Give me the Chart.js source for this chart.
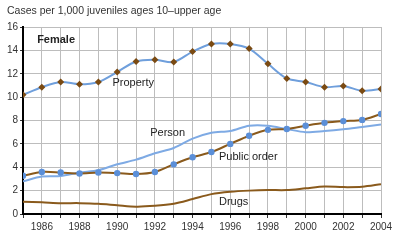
<!DOCTYPE html>
<html>
<head>
<meta charset="utf-8">
<script src="https://cdn.jsdelivr.net/npm/chart.js@4.4.1/dist/chart.umd.min.js"></script>
<style>
  html, body { margin: 0; padding: 0; background: #fff; }
  #wrap { width: 400px; height: 245px; }
</style>
</head>
<body>
<div id="wrap"><canvas id="chart" width="400" height="245"></canvas></div>
<script>
// años del eje x
const years = [1985, 1986, 1987, 1988, 1989, 1990, 1991, 1992, 1993, 1994,
               1995, 1996, 1997, 1998, 1999, 2000, 2001, 2002, 2003, 2004];

// casos por 1,000 jóvenes
const property    = [10.2, 10.85, 11.3, 11.1, 11.3, 12.15, 13.05, 13.2, 13.0, 13.9,
                     14.55, 14.55, 14.15, 12.85, 11.6, 11.3, 10.85, 10.95, 10.55, 10.7];
const publicOrder = [3.27, 3.6, 3.55, 3.47, 3.55, 3.5, 3.42, 3.6, 4.25, 4.85,
                     5.3, 6.0, 6.7, 7.2, 7.27, 7.55, 7.8, 7.95, 8.05, 8.55];
const person      = [2.8, 3.2, 3.25, 3.55, 3.75, 4.25, 4.65, 5.2, 5.65, 6.45,
                     6.95, 7.1, 7.55, 7.55, 7.27, 7.0, 7.1, 7.25, 7.45, 7.65];
const drugs       = [1.05, 1.0, 0.93, 0.93, 0.88, 0.75, 0.63, 0.7, 0.88, 1.28,
                     1.7, 1.9, 2.0, 2.05, 2.05, 2.2, 2.35, 2.3, 2.33, 2.55];

const yTicks = [0, 2, 4, 6, 8, 10, 12, 14, 16];
const titleText = 'Cases per 1,000 juveniles ages 10\u2013upper age';

const toXY = arr => arr.map((v, i) => ({ x: years[i], y: v }));

// etiquetas de las series
const labelsPlugin = {
  id: 'labels',
  afterDraw(chart) {
    const c = chart.ctx;
    const xs = chart.scales.x, ys = chart.scales.y;
    c.save();
    c.fillStyle = '#333';
    c.font = '10.5px "Liberation Sans", Arial, sans-serif';
    c.textBaseline = 'middle';
    c.fillText(titleText, 7, 11);
    c.fillStyle = '#222';
    c.font = 'bold 11px "Liberation Sans", Arial, sans-serif';
    c.fillText('Female', xs.getPixelForValue(1985.75), ys.getPixelForValue(14.9));
    c.font = '11px "Liberation Sans", Arial, sans-serif';
    c.fillText('Property', xs.getPixelForValue(1989.75), ys.getPixelForValue(11.2));
    c.fillText('Person', xs.getPixelForValue(1991.75), ys.getPixelForValue(6.95));
    c.fillText('Public order', xs.getPixelForValue(1995.4), ys.getPixelForValue(4.85));
    c.fillText('Drugs', xs.getPixelForValue(1995.4), ys.getPixelForValue(1.0));
    c.restore();
  }
};

const ctx = document.getElementById('chart').getContext('2d');
const chart = new Chart(ctx, {
  type: 'line',
  data: {
    datasets: [
      {
        label: 'Property',
        data: toXY(property),
        borderColor: '#6f9fdc',
        borderWidth: 2,
        pointStyle: 'rectRot',
        pointRadius: 3.5,
        pointBorderWidth: 0,
        pointBackgroundColor: '#7a4a12',
        tension: 0.3
      },
      {
        label: 'Public order',
        data: toXY(publicOrder),
        borderColor: '#8a5a1c',
        borderWidth: 2,
        pointRadius: 3.2,
        pointBorderWidth: 0,
        pointBackgroundColor: '#5b8fd8',
        tension: 0.3
      },
      {
        label: 'Person',
        data: toXY(person),
        borderColor: '#7eaae4',
        borderWidth: 2,
        pointRadius: 0,
        tension: 0.3
      },
      {
        label: 'Drugs',
        data: toXY(drugs),
        borderColor: '#8a5a1c',
        borderWidth: 2,
        pointRadius: 0,
        tension: 0.3
      }
    ]
  },
  options: {
    responsive: false,
    animation: false,
    events: [],
    layout: { padding: { top: 27, right: 19, left: 0, bottom: 0 } },
    plugins: { legend: { display: false }, tooltip: { enabled: false } },
    scales: {
      x: {
        type: 'linear',
        min: 1985,
        max: 2004,
        afterFit: s => { s.height = 31; },
        afterBuildTicks: s => { s.ticks = years.map(v => ({ value: v })); },
        ticks: {
          autoSkip: false,
          maxRotation: 0,
          padding: 3,
          color: '#333',
          font: { size: 10, family: '"Liberation Sans", Arial, sans-serif' },
          callback: v => (v % 2 === 0 ? String(v) : '')
        },
        grid: { color: '#bdbdbd', lineWidth: 1, tickLength: 4, tickColor: '#333' },
        border: { color: '#000', width: 2 }
      },
      y: {
        min: 0,
        max: 16,
        afterFit: s => { s.width = 23; },
        afterBuildTicks: s => { s.ticks = yTicks.map(v => ({ value: v })); },
        ticks: {
          padding: 2,
          color: '#333',
          font: { size: 10, family: '"Liberation Sans", Arial, sans-serif' }
        },
        grid: { color: '#bdbdbd', lineWidth: 1, tickLength: 3, tickColor: '#333' },
        border: { color: '#000', width: 2 }
      }
    }
  },
  plugins: [labelsPlugin]
});
</script>
</body>
</html>
